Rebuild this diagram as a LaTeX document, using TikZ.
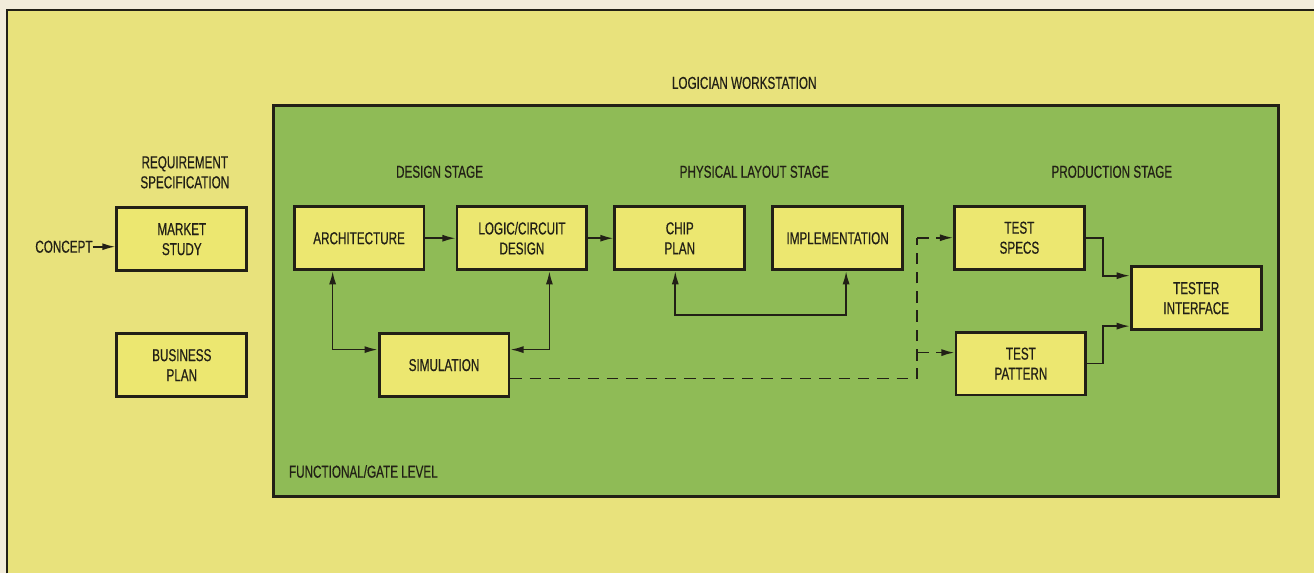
\documentclass[tikz,border=0pt]{standalone}
\usepackage{fontspec}
\setmainfont{Liberation Sans}[FakeStretch=0.68, FakeBold=0.5]
\usepackage{tikz}
\usetikzlibrary{
  arrows.meta,  % Latex arrow tips
  positioning   % relative placement
}
\definecolor{paper}{RGB}{242,236,218}
\definecolor{sheetyellow}{RGB}{232,226,124}
\definecolor{boxyellow}{RGB}{236,231,112}
\definecolor{panelgreen}{RGB}{143,187,86}
\definecolor{ink}{RGB}{34,32,22}
\tikzset{
  stagebox/.style={
    draw=ink,
    line width=1.6pt,
    fill=boxyellow,
    minimum width=2.6cm,
    minimum height=1.26cm,
    align=center,
    inner sep=0pt
  },
  link/.style={
    line width=0.95pt,
    draw=ink
  },
  dashlink/.style={
    link,
    dash pattern=on 6.5pt off 4.5pt
  },
  heading/.style={
    align=center,
    inner sep=0pt
  }
}

\begin{document}
\begin{tikzpicture}[>={Latex[length=7.5pt,width=4pt]},
  every node/.style={font=\fontsize{9.8}{11.4}\selectfont, text=ink}]
  % ==== sheet and panel ====
  \fill[paper] (0,0) rectangle (26.3,11.48);
  \fill[sheetyellow] (0.14,0) rectangle (26.3,11.28);
  \draw[ink, line width=1.6pt] (0.14,0) -- (0.14,11.28) -- (26.3,11.28);
  \draw[ink, line width=1.6pt, fill=panelgreen] (5.48,1.54) rectangle (25.6,9.36);

  % ==== headings ====
  \node[heading] (ws) at (14.9,9.82) {LOGICIAN WORKSTATION};
  \node[heading] (req) at (3.7,8.03) {REQUIREMENT\\SPECIFICATION};
  \node[heading] (design) at (8.8,8.04) {DESIGN STAGE};
  \node[heading] (layout) at (15.1,8.04) {PHYSICAL LAYOUT STAGE};
  \node[heading] (prod) at (22.26,8.04) {PRODUCTION STAGE};
  \node[heading, anchor=west] (level) at (5.78,2.04) {FUNCTIONAL/GATE LEVEL};

  % ==== boxes ====
  \node[stagebox] (market) at (3.64,6.69) {MARKET\\STUDY};
  \node[stagebox] (business) at (3.64,4.17) {BUSINESS\\PLAN};
  \node[stagebox] (arch) at (7.19,6.71) {ARCHITECTURE};
  \node[stagebox] (logic) at (10.45,6.71) {LOGIC/CIRCUIT\\DESIGN};
  \node[stagebox] (chip) at (13.61,6.71) {CHIP\\PLAN};
  \node[stagebox] (impl) at (16.77,6.71) {IMPLEMENTATION};
  \node[stagebox] (sim) at (8.89,4.17) {SIMULATION};
  \node[stagebox] (specs) at (20.41,6.72) {TEST\\SPECS};
  \node[stagebox] (pattern) at (20.44,4.20) {TEST\\PATTERN};
  \node[stagebox] (tester) at (23.95,5.51) {TESTER\\INTERFACE};

  % ==== connectors ====
  \node[heading, anchor=east] (concept) at (1.86,6.54) {CONCEPT};
  \draw[link,->] (concept.east) -- (concept.east -| market.west);
  \draw[link,->] (arch) -- (logic);
  \draw[link,->] (logic) -- (chip);
  \draw[link,<->] ([xshift=-0.53cm]arch.south) |- ([yshift=0.31cm]sim.west);
  \draw[link,<->] ([xshift=0.55cm]logic.south) |- ([yshift=0.31cm]sim.east);
  \draw[link,<->] ([xshift=-0.09cm]chip.south) -- ++(0,-0.88) -| ([xshift=0.17cm]impl.south);

  % dashed feed to production stage
  \coordinate (dtop) at ([xshift=-0.72cm]specs.west);
  \coordinate (pin) at ([yshift=0.22cm]pattern.west);
  \draw[dashlink] ([yshift=-0.27cm]sim.east) -| (dtop);
  \draw[dashlink,->] (dtop) -- (specs.west);
  \draw[dashlink,->] (dtop |- pin) -- (pin);

  \draw[link,->] (specs.east) -- ++(0.34,0) |- ([yshift=0.45cm]tester.west);
  \draw[link,->] (pattern.east) -- ++(0.32,0) |- ([yshift=-0.56cm]tester.west);
\end{tikzpicture}
\end{document}
